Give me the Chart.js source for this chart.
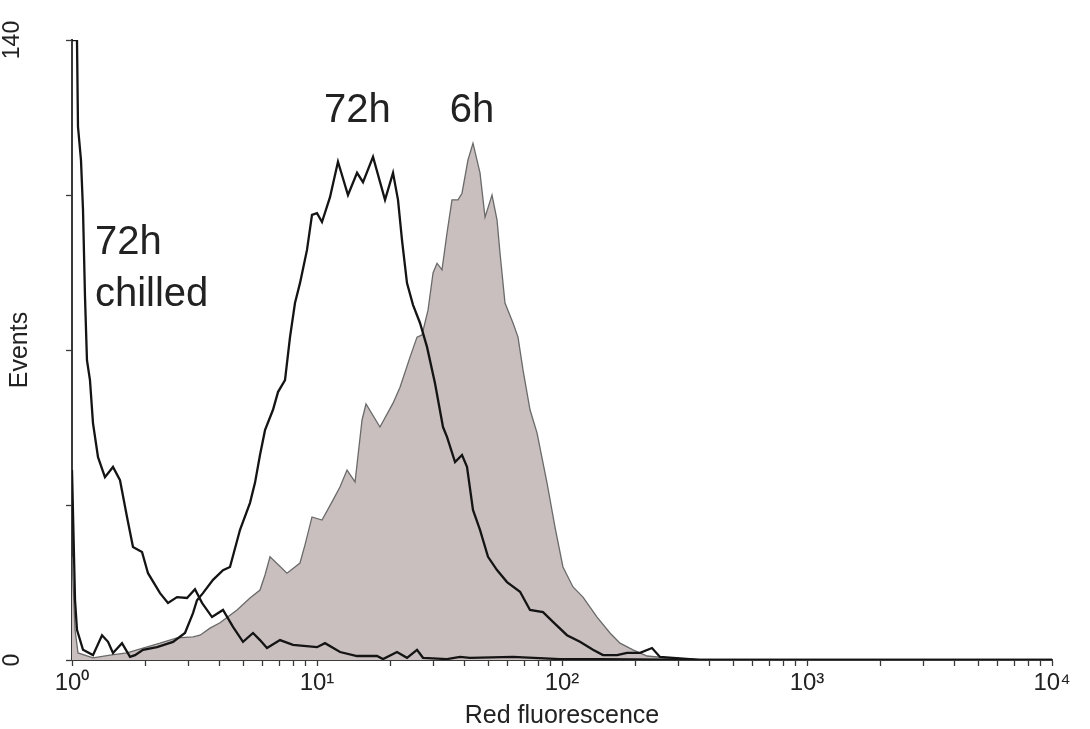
<!DOCTYPE html>
<html>
<head>
<meta charset="utf-8">
<script src="https://cdn.jsdelivr.net/npm/chart.js@4.4.1/dist/chart.umd.min.js"></script>
<style>
  html, body { margin: 0; padding: 0; background: #ffffff; }
  #wrap { width: 1090px; height: 729px; position: relative; }
</style>
</head>
<body>
<div id="wrap"><canvas id="c"></canvas></div>
<script>
// ---- Data (x = red fluorescence, y = events) ----
const chilledX = [1.000, 1.048, 1.058, 1.088, 1.109, 1.130, 1.151, 1.184, 1.218, 1.277, 1.363, 1.470, 1.570, 1.677, 1.774, 1.931, 2.043, 2.287, 2.465, 2.683, 2.947, 3.177, 3.394, 3.728, 4.134, 4.541, 4.989, 5.481, 5.852, 6.251, 7.063, 7.980, 10.0, 10.78, 12.42, 14.57, 17.58, 18.60, 21.21, 23.30, 25.60, 27.08, 33.93, 38.35, 42.12, 63.1, 98.1, 142.9, 365.9, 10000];
const chilledY = [140, 140, 120.4, 112.9, 101.6, 82.0, 67.7, 63.2, 53.5, 45.8, 41.3, 43.6, 40.6, 32.3, 25.5, 24.4, 19.6, 15.1, 12.9, 14.2, 14.0, 16.0, 12.9, 9.7, 11.3, 7.5, 4.1, 6.1, 4.5, 2.7, 4.5, 3.4, 2.9, 3.8, 1.8, 0.9, 0.9, 0.2, 1.8, 0.5, 2.3, 0.5, 0.2, 0.7, 0.5, 0.7, 0.2, 0.2, 0, 0];

const h72X = [1.000, 1.029, 1.048, 1.109, 1.218, 1.326, 1.403, 1.470, 1.600, 1.725, 1.808, 1.949, 2.223, 2.584, 2.892, 3.118, 3.237, 3.424, 3.763, 4.134, 4.414, 4.851, 5.328, 5.583, 5.852, 6.135, 6.613, 6.931, 7.403, 7.759, 8.131, 8.522, 9.103, 9.541, 10.0, 10.48, 11.30, 12.18, 13.38, 14.57, 15.41, 16.93, 18.95, 20.43, 21.41, 22.23, 23.30, 24.65, 26.33, 28.12, 30.31, 32.68, 33.93, 36.60, 39.07, 40.95, 43.32, 46.27, 49.89, 54.29, 59.64, 67.41, 74.04, 83.66, 91.89, 104.8, 118.4, 133.8, 147.0, 167.7, 184.2, 208.2, 233.0, 251.2, 283.9, 333.1, 365.9, 10000];
const h72Y = [42.9, 13.5, 6.8, 2.3, 1.1, 5.6, 4.1, 1.6, 3.8, 0.7, 1.1, 2.3, 2.9, 4.1, 6.1, 10.6, 13.5, 15.1, 18.1, 20.3, 21.0, 29.4, 35.5, 40.0, 46.3, 51.9, 56.5, 60.5, 63.2, 72.9, 80.6, 85.1, 92.6, 100.5, 100.9, 98.9, 104.5, 112.5, 105.0, 110.0, 107.9, 113.6, 103.9, 110.0, 103.9, 94.8, 85.1, 80.2, 76.1, 70.7, 62.5, 52.6, 50.4, 44.7, 46.3, 43.6, 33.9, 29.4, 23.3, 20.3, 17.6, 15.4, 11.3, 10.8, 8.6, 5.6, 4.1, 2.3, 1.1, 1.1, 1.6, 1.6, 2.7, 0.7, 0.5, 0.2, 0, 0];

const h6X = [1.000, 1.029, 1.058, 1.218, 1.429, 1.677, 1.949, 2.287, 2.683, 3.118, 3.331, 3.659, 4.018, 4.716, 5.328, 5.852, 6.135, 6.430, 7.543, 8.522, 8.933, 9.541, 10.48, 11.62, 12.42, 13.26, 14.30, 15.27, 15.85, 18.07, 20.43, 21.82, 23.97, 25.60, 26.83, 28.39, 29.76, 30.90, 32.37, 33.93, 35.56, 37.63, 39.07, 41.33, 43.32, 46.27, 48.51, 51.80, 54.29, 55.84, 58.52, 63.10, 66.14, 69.31, 74.04, 79.07, 86.86, 93.63, 100.9, 110.9, 121.8, 139.0, 157.0, 172.5, 194.9, 222.3, 268.3, 333.1, 365.9, 10000];
const h6Y = [23.3, 6.8, 1.6, 0.5, 1.1, 1.6, 2.7, 3.8, 5.0, 5.2, 5.6, 7.2, 8.4, 11.3, 14.0, 15.8, 19.2, 23.3, 19.6, 21.9, 26.0, 32.3, 31.6, 36.1, 39.1, 42.9, 40.2, 54.2, 57.8, 52.6, 58.0, 61.6, 68.4, 72.9, 73.4, 79.0, 87.4, 89.6, 88.1, 96.4, 103.9, 103.9, 105.4, 112.9, 116.7, 110.0, 100.0, 105.0, 99.4, 91.9, 80.6, 76.1, 72.9, 65.5, 56.5, 51.3, 40.0, 30.0, 21.0, 16.5, 14.2, 9.7, 6.1, 3.8, 2.3, 0.9, 0.5, 0.2, 0, 0];

const xMajorValues = [1, 10, 100, 1000, 10000];
const xTickLabels = ['10\u2070', '10\u00B9', '10\u00B2', '10\u00B3', '10\u2074'];
const yTickValues = [0, 35, 70, 105, 140];
const yTickLabels = ['0', '', '', '', '140'];

// curve labels: text lines with anchor in data coordinates
const curveLabelText = ['72h', '6h', '72h', 'chilled'];
const curveLabelX = [14.6, 42.9, 1.24, 1.24];
const curveLabelY = [124, 124, 94.2, 82.4];
const curveLabelAlign = ['center', 'center', 'left', 'left'];

// ---- build points ----
function pts(xs, ys) { return xs.map((x, i) => ({ x: x, y: ys[i] })); }

// all x tick positions: 1..9 per decade
const xAllTicks = [];
for (let d = 0; d < xMajorValues.length - 1; d++) {
  for (let m = 1; m <= 9; m++) xAllTicks.push(m * xMajorValues[d]);
}
xAllTicks.push(xMajorValues[xMajorValues.length - 1]);

const FONT = "'Liberation Sans', Arial, Helvetica, sans-serif";

const labelPlugin = {
  id: 'curveLabels',
  afterDatasetsDraw(chart) {
    const ctx = chart.ctx;
    const xs = chart.scales.x, ys = chart.scales.y;
    ctx.save();
    ctx.fillStyle = '#222';
    ctx.font = '40px ' + FONT;
    ctx.textBaseline = 'middle';
    for (let i = 0; i < curveLabelText.length; i++) {
      ctx.textAlign = curveLabelAlign[i];
      ctx.fillText(curveLabelText[i], xs.getPixelForValue(curveLabelX[i]), ys.getPixelForValue(curveLabelY[i]));
    }
    ctx.restore();
  }
};

new Chart(document.getElementById('c'), {
  type: 'line',
  data: {
    datasets: [
      {
        label: '72h chilled',
        data: pts(chilledX, chilledY),
        borderColor: '#141414',
        borderWidth: 2.3,
        pointRadius: 0,
        tension: 0,
        fill: false,
        order: 1
      },
      {
        label: '72h',
        data: pts(h72X, h72Y),
        borderColor: '#141414',
        borderWidth: 2.3,
        pointRadius: 0,
        tension: 0,
        fill: false,
        order: 2
      },
      {
        label: '6h',
        data: pts(h6X, h6Y),
        borderColor: '#6a6a6a',
        borderWidth: 1.3,
        backgroundColor: '#c9bfbe',
        pointRadius: 0,
        tension: 0,
        fill: 'origin',
        order: 3
      }
    ]
  },
  options: {
    responsive: true,
    maintainAspectRatio: false,
    animation: false,
    events: [],
    layout: { padding: { left: 0, top: 40, right: 38, bottom: 0 } },
    plugins: { legend: { display: false }, tooltip: { enabled: false } },
    scales: {
      x: {
        type: 'logarithmic',
        min: 1,
        max: 10000,
        afterBuildTicks(scale) { scale.ticks = xAllTicks.map(v => ({ value: v })); },
        afterFit(scale) { scale.height = 69; scale.paddingLeft = 0; scale.paddingRight = 0; },
        border: { display: true, color: '#3a3a3a', width: 2 },
        grid: { display: true, drawOnChartArea: false, drawTicks: true, tickLength: 6, tickColor: '#3a3a3a', tickWidth: 1.3 },
        ticks: {
          autoSkip: false,
          maxRotation: 0,
          minRotation: 0,
          padding: 3,
          color: '#222',
          font: { family: FONT, size: 24 },
          callback(value) {
            const k = xMajorValues.indexOf(value);
            return k >= 0 ? xTickLabels[k] : '';
          }
        },
        title: {
          display: true,
          text: 'Red fluorescence',
          color: '#222',
          font: { family: FONT, size: 25, lineHeight: 1 },
          padding: { top: 0, bottom: 0 }
        }
      },
      y: {
        type: 'linear',
        min: 0,
        max: 140,
        afterBuildTicks(scale) { scale.ticks = yTickValues.map(v => ({ value: v })); },
        afterFit(scale) { scale.width = 72; scale.paddingTop = 0; scale.paddingBottom = 0; },
        border: { display: true, color: '#3a3a3a', width: 2 },
        grid: { display: true, drawOnChartArea: false, drawTicks: true, tickLength: 6, tickColor: '#3a3a3a', tickWidth: 1.3 },
        ticks: {
          autoSkip: false,
          minRotation: 90,
          maxRotation: 90,
          crossAlign: 'center',
          padding: 34,
          color: '#222',
          font: { family: FONT, size: 23 },
          callback(value) {
            const k = yTickValues.indexOf(value);
            return k >= 0 ? yTickLabels[k] : '';
          }
        },
        title: {
          display: true,
          text: 'Events',
          color: '#222',
          font: { family: FONT, size: 25 },
          padding: { top: 5, bottom: 5 }
        }
      }
    }
  },
  plugins: [labelPlugin]
});
</script>
</body>
</html>
